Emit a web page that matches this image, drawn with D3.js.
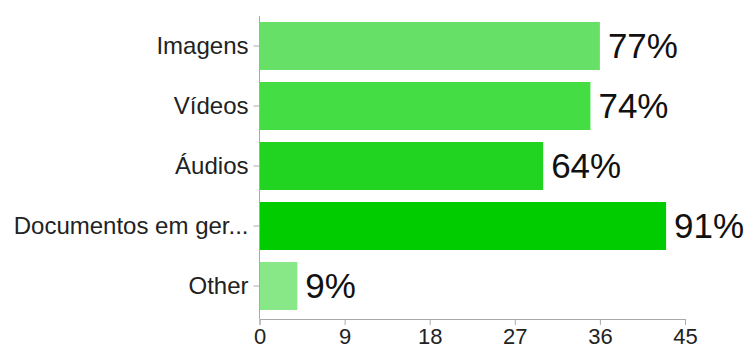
<!DOCTYPE html>
<html>
<head>
<meta charset="utf-8">
<script src="https://cdn.jsdelivr.net/npm/d3@7"></script>
<style>
  body { margin: 0; background: #fff; }
  svg { display: block; font-family: "Liberation Sans", Arial, sans-serif; }
  .axis path, .axis line { stroke: #aaa; }
  .axis text { fill: #222; font-size: 24px; }
  .xaxis text { font-size: 22px; }
</style>
</head>
<body>
<div id="chart"></div>
<script>
// answers and counts (47 responses)
const categories = ["Imagens", "Vídeos", "Áudios", "Documentos em ger...", "Other"]
const counts = [36, 35, 30, 43, 4]
const percents = ["77%", "74%", "64%", "91%", "9%"]
const xTicks = [0, 9, 18, 27, 36, 45]

const barColors = ["#66e066", "#44dd44", "#22d422", "#00cc00", "#88e888"]

const width = 744, height = 349
const svg = d3.select("#chart")
              .append("svg")
              .attr("width", width)
              .attr("height", height)

const x = d3.scaleLinear().domain([0, 45]).range([259.5, 685])
const y = d3.scaleBand().domain(categories).range([16, 316]).paddingInner(0.2).paddingOuter(0.1)
const color = d3.scaleOrdinal().domain(categories).range(barColors)
const axisY = 319 // x axis sits a bit below the last band

svg.selectAll("rect.bar")
   .data(categories)
   .enter()
   .append("rect")
   .attr("class", "bar")
   .attr("x", x(0))
   .attr("y", d => y(d))
   .attr("width", (d, i) => x(counts[i]) - x(0))
   .attr("height", y.bandwidth())
   .attr("fill", d => color(d))

svg.selectAll("text.val")
   .data(categories)
   .enter()
   .append("text")
   .attr("class", "val")
   .attr("x", (d, i) => x(counts[i]) + 8)
   .attr("y", d => y(d) + y.bandwidth() / 2)
   .attr("dy", "0.33em")
   .attr("font-size", 35)
   .attr("fill", "#111")
   .text((d, i) => percents[i])

svg.append("g")
   .attr("class", "axis xaxis")
   .attr("transform", `translate(0,${axisY})`)
   .call(d3.axisBottom(x).tickValues(xTicks).tickSize(6).tickSizeOuter(6).tickPadding(3))

// y axis: line runs from the top of the plot down to the x axis
const yAxis = svg.append("g")
   .attr("class", "axis")
   .attr("transform", `translate(${x(0)},0)`)
   .call(d3.axisLeft(y).tickSize(6).tickSizeOuter(0).tickPadding(5))
yAxis.select(".domain").attr("d", `M0,16V${axisY}`)
</script>
</body>
</html>
